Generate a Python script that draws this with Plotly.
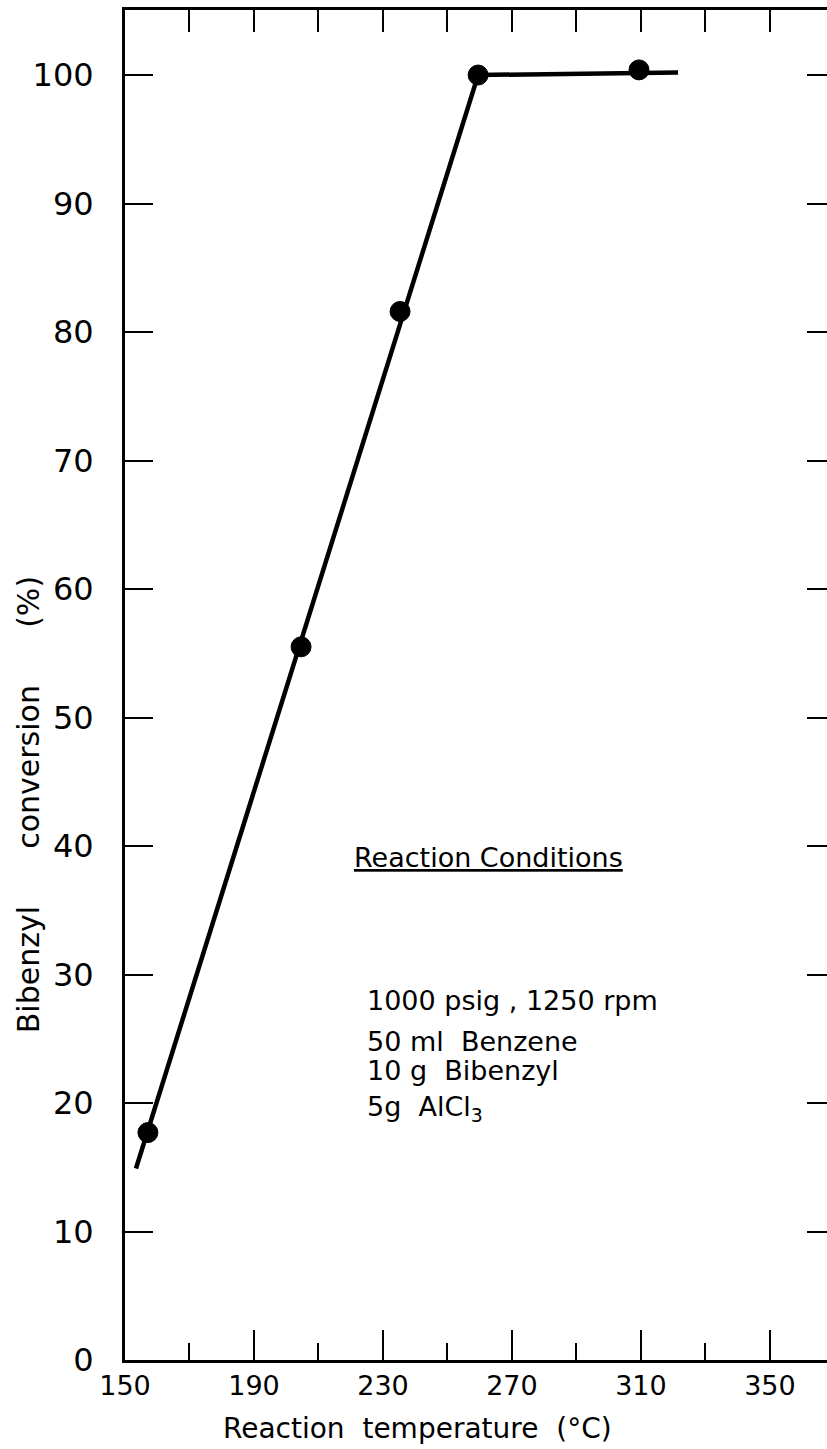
import plotly.graph_objects as go

# Data
temp_points = [157.1, 204.6, 235.3, 259.5, 309.4]
conversion_points = [17.7, 55.5, 81.6, 100.0, 100.4]

line_temp = [153.4, 259.5, 321.5]
line_conv = [14.9, 100.0, 100.2]

x_major_ticks = [150, 190, 230, 270, 310, 350]
x_minor_ticks = [170, 210, 250, 290, 330]
x_top_ticks = [170, 190, 210, 230, 250, 270, 290, 310, 330, 350]
y_ticks = [0, 10, 20, 30, 40, 50, 60, 70, 80, 90, 100]
y_right_ticks = [10, 20, 30, 40, 50, 60, 70, 80, 90, 100]

conditions_title = "Reaction Conditions"
conditions_lines = ["1000 psig , 1250 rpm", "50 ml  Benzene", "10 g  Bibenzyl", "5g  AlCl<sub>3</sub>"]
conditions_y = [28.0, 24.8, 22.5, 19.6]

FONT = "DejaVu Sans"
X_RANGE = [150.0, 367.7]
Y_RANGE = [0, 105.06]

fig = go.Figure()

fig.add_trace(go.Scatter(
    x=line_temp, y=line_conv, mode="lines",
    line=dict(color="black", width=4.5), showlegend=False, hoverinfo="skip"))

fig.add_trace(go.Scatter(
    x=temp_points, y=conversion_points, mode="markers",
    marker=dict(color="black", size=20, line=dict(color="black", width=1)),
    showlegend=False))

# empty trace to activate overlay axes
fig.add_trace(go.Scatter(x=[], y=[], xaxis="x2", yaxis="y2", showlegend=False))

fig.update_layout(
    width=827, height=1449,
    margin=dict(l=125, r=0, t=10, b=89, pad=0),
    paper_bgcolor="white", plot_bgcolor="white",
    font=dict(family=FONT, color="black"),
    xaxis=dict(
        range=X_RANGE, tickvals=x_major_ticks, ticks="inside", ticklen=30,
        tickwidth=2, tickcolor="black", showline=True, linewidth=3,
        linecolor="black", showgrid=False, zeroline=False,
        tickfont=dict(size=27, family=FONT),
        minor=dict(tickvals=x_minor_ticks, ticks="inside",
                   ticklen=17, tickwidth=2, tickcolor="black", showgrid=False),
    ),
    xaxis2=dict(
        range=X_RANGE, overlaying="x", side="top", anchor="y",
        tickvals=x_top_ticks, ticks="inside", ticklen=22, tickwidth=2,
        tickcolor="black", showline=True, linewidth=3, linecolor="black",
        showticklabels=False, showgrid=False, zeroline=False,
    ),
    yaxis=dict(
        range=Y_RANGE, tickvals=y_ticks, ticks="inside", ticklen=28,
        tickwidth=2, tickcolor="black", showline=True, linewidth=3,
        linecolor="black", showgrid=False, zeroline=False,
        tickfont=dict(size=32, family=FONT), ticklabelstandoff=22,
    ),
    yaxis2=dict(
        range=Y_RANGE, overlaying="y", side="right", anchor="x",
        tickvals=y_right_ticks, ticks="inside", ticklen=20, tickwidth=2,
        tickcolor="black", showline=False, showticklabels=False,
        showgrid=False, zeroline=False,
    ),
)

sp = "&nbsp;" * 6
annotations = [
    dict(text="Bibenzyl" + sp + "conversion" + sp + "(%)",
         xref="paper", yref="paper", x=-0.138, y=0.411, textangle=-90,
         showarrow=False, font=dict(size=30, family=FONT),
         xanchor="center", yanchor="middle"),
    dict(text="Reaction&nbsp;&nbsp;temperature&nbsp;&nbsp;(°C)",
         xref="paper", yref="paper", x=0.416, y=-0.0504,
         showarrow=False, font=dict(size=28, family=FONT),
         xanchor="center", yanchor="middle"),
    dict(text="<u>" + conditions_title + "</u>", x=220.4, y=39.1,
         xref="x", yref="y", showarrow=False, xanchor="left", yanchor="middle",
         font=dict(size=27, family=FONT)),
]
for txt, yy in zip(conditions_lines, conditions_y):
    annotations.append(dict(text=txt, x=224.4, y=yy, xref="x", yref="y",
                            showarrow=False, xanchor="left", yanchor="middle",
                            font=dict(size=27, family=FONT)))
fig.update_layout(annotations=annotations)

fig.write_html("out.html", config={"displayModeBar": False},
               post_script="document.body.style.margin='0px';document.body.style.padding='0px';")
